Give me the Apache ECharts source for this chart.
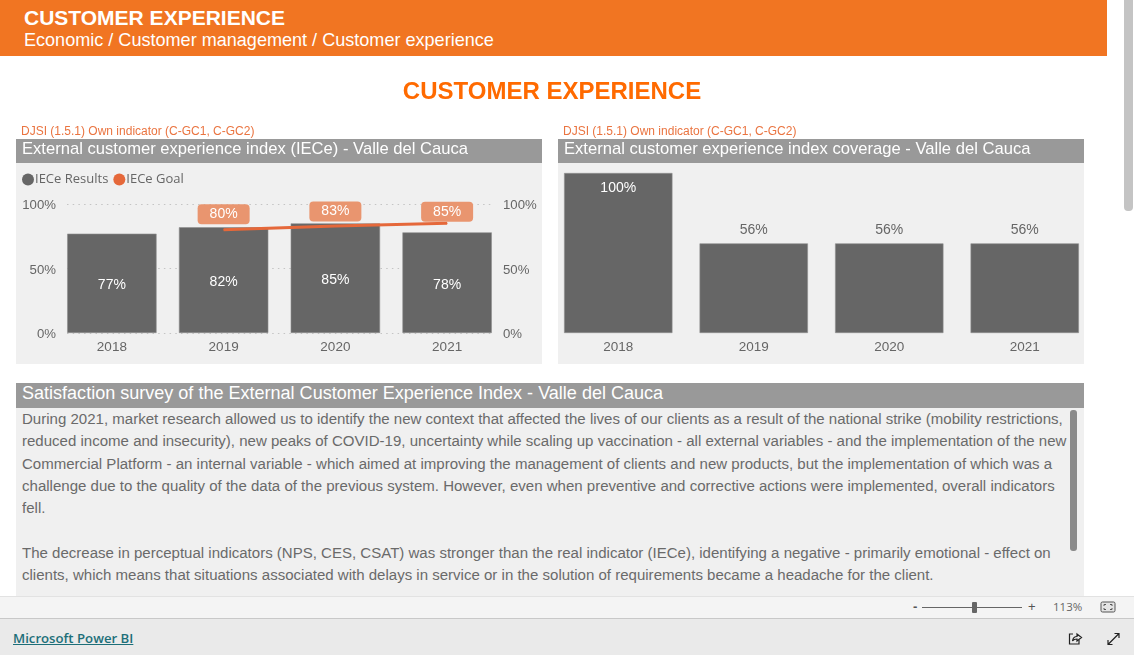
<!DOCTYPE html>
<html>
<head>
<meta charset="utf-8">
<style>
html,body{margin:0;padding:0;width:1134px;height:655px;overflow:hidden;background:#fff;font-family:"Liberation Sans",Arial,sans-serif}
.b{position:absolute}
.t{position:absolute;white-space:nowrap;line-height:1}
#chart{position:absolute;left:0;top:0;width:1134px;height:655px}
</style>
</head>
<body>
<div class="b" style="left:0;top:0;width:1107px;height:56px;background:#F17522"></div>
<div class="t" style="left:24px;top:7px;font-size:21px;font-weight:bold;color:#fff">CUSTOMER EXPERIENCE</div>
<div class="t" style="left:24px;top:31px;font-size:18.07px;color:#fff">Economic / Customer management / Customer experience</div>
<div class="b" style="left:1124px;top:0;width:9px;height:211px;background:#c4c4c4;border-radius:0 0 4px 4px"></div>

<div class="b" style="left:16px;top:163px;width:526px;height:201px;background:#f0f0f0"></div>
<div class="b" style="left:16px;top:139px;width:526px;height:24px;background:#999"></div>
<div class="b" style="left:558px;top:163px;width:526px;height:201px;background:#f0f0f0"></div>
<div class="b" style="left:558px;top:139px;width:526px;height:24px;background:#999"></div>

<div class="b" style="left:16px;top:408px;width:1068px;height:188px;background:#f0f0f0"></div>
<div class="b" style="left:16px;top:383px;width:1068px;height:25px;background:#999"></div>
<div class="t" style="left:22px;top:384px;font-size:18.05px;color:#fff">Satisfaction survey of the External Customer Experience Index - Valle del Cauca</div>
<div class="b" style="left:1070px;top:410px;width:7px;height:141px;background:#8a8a8a;border-radius:3px"></div>
<div id="body" class="b" style="left:22px;top:408px;width:1046px;height:188px;overflow:hidden;font-size:15.04px;line-height:22.3px;color:#6a6a6a;white-space:nowrap"></div>

<div class="b" style="left:0;top:596px;width:1134px;height:22px;background:#f4f4f4;border-top:1px solid #e2e2e2;box-sizing:border-box"></div>
<div class="b" style="left:0;top:618px;width:1134px;height:37px;background:#eaeaea;border-top:1px solid #c8c8c8;box-sizing:border-box"></div>
<div class="t" style="left:13px;top:632px;font-family:'Open Sans',sans-serif;font-size:13.2px;font-weight:600;color:#1d6f79;text-decoration:underline">Microsoft Power BI</div>
<div class="t" style="left:913px;top:600px;font-size:13px;font-weight:bold;color:#555">-</div>
<div class="b" style="left:922px;top:607px;width:100px;height:1px;background:#666"></div>
<div class="b" style="left:972px;top:602px;width:5px;height:11px;background:#666;border-radius:1px"></div>
<div class="t" style="left:1028px;top:600px;font-size:13px;color:#555">+</div>
<div class="t" style="left:1053px;top:601px;font-family:'Open Sans',sans-serif;font-size:11.5px;color:#666">113%</div>
<svg class="b" style="left:1100px;top:601px" width="16" height="12"><rect x="1" y="1" width="14" height="10" rx="1.5" fill="#e4e4e4" stroke="#555"/><path d="M4 5V3.5H6M10 3.5H12V5M12 7V8.5H10M6 8.5H4V7" fill="none" stroke="#555"/></svg>
<svg class="b" style="left:1067px;top:631px" width="16" height="15"><path d="M6 3H2.5V13H12V9" fill="none" stroke="#222" stroke-width="1.2"/><path d="M5.5 10C6 6.5 8 5.5 10 5.5V3L14.5 6.5L10 10V8C8 8 6.5 8.5 5.5 10Z" fill="none" stroke="#222" stroke-width="1.2"/></svg>
<svg class="b" style="left:1106px;top:632px" width="15" height="14"><path d="M2 12.5L13 1.5M8.5 1.5H13V6M2 8V12.5H6.5" fill="none" stroke="#222" stroke-width="1.2"/></svg>

<div id="chart"></div>
<script src="https://cdn.jsdelivr.net/npm/echarts@6/dist/echarts.min.js"></script>
<script>
const years = ['2018','2019','2020','2021'];
const results = [77,82,85,78];
const goal = [null,80,83,85];
const coverage = [100,56,56,56];
const captionText = 'DJSI (1.5.1) Own indicator (C-GC1, C-GC2)';
const mainTitle = 'CUSTOMER EXPERIENCE';
const leftTitle = 'External customer experience index (IECe) - Valle del Cauca';
const rightTitle = 'External customer experience index coverage - Valle del Cauca';
const bodyLines = [
 'During 2021, market research allowed us to identify the new context that affected the lives of our clients as a result of the national strike (mobility restrictions,',
 'reduced income and insecurity), new peaks of COVID-19, uncertainty while scaling up vaccination - all external variables - and the implementation of the new',
 'Commercial Platform - an internal variable - which aimed at improving the management of clients and new products, but the implementation of which was a',
 'challenge due to the quality of the data of the previous system. However, even when preventive and corrective actions were implemented, overall indicators',
 'fell.',
 '',
 'The decrease in perceptual indicators (NPS, CES, CSAT) was stronger than the real indicator (IECe), identifying a negative - primarily emotional - effect on',
 'clients, which means that situations associated with delays in service or in the solution of requirements became a headache for the client.'
];
document.getElementById('body').innerHTML = bodyLines.map(l => '<div style="height:22.3px">'+(l||'&nbsp;')+'</div>').join('');

const BAR = '#666666', GOAL = '#E5683A', LABEL_BG = '#E9956F', AXIS_TXT = '#666666';
const AF = 'Liberation Sans';
const pctLabel = v => '{a|' + v + '%}';
const tickRich = {a:{fontFamily:AF,fontSize:13.2,color:AXIS_TXT,padding:[3,0,0,0]}};
const goalOffsets = [0,1,2,5];

const chart = echarts.init(document.getElementById('chart'), null, {renderer:'canvas'});
chart.setOption({
  animation:false,
  backgroundColor:'transparent',
  title:[
    {text:mainTitle,left:552,textAlign:'center',top:80,padding:0,textStyle:{fontFamily:AF,fontSize:24,fontWeight:'bold',color:'#FF6A00'}},
    {text:captionText,left:21,top:126,padding:0,textStyle:{fontFamily:AF,fontSize:12,fontWeight:'normal',color:'#EA7440'}},
    {text:captionText,left:563,top:126,padding:0,textStyle:{fontFamily:AF,fontSize:12,fontWeight:'normal',color:'#EA7440'}},
    {text:leftTitle,left:22,top:141,padding:0,textStyle:{fontFamily:AF,fontSize:16.6,fontWeight:'normal',color:'#fff'}},
    {text:rightTitle,left:564,top:141,padding:0,textStyle:{fontFamily:AF,fontSize:16.6,fontWeight:'normal',color:'#fff'}}
  ],
  legend:{
    left:22,top:173,padding:0,itemWidth:12,itemHeight:12,itemGap:5,
    icon:'circle',
    textStyle:{fontFamily:'Open Sans',fontSize:13,color:'#666',padding:[0,0,0,-4]},
    data:[{name:'IECe Results',itemStyle:{color:BAR,borderWidth:0}},{name:'IECe Goal',itemStyle:{color:GOAL,borderWidth:0}}]
  },
  grid:[
    {left:67,width:425,top:204,height:129},
    {left:56,width:447,top:204,height:129},
    {left:550.5,width:542,top:173,height:160}
  ],
  xAxis:[
    {gridIndex:0,type:'category',data:years,show:false},
    {gridIndex:1,type:'category',data:years,axisLine:{show:false},axisTick:{show:false},
     axisLabel:{fontFamily:AF,fontSize:13.5,color:AXIS_TXT,margin:7}},
    {gridIndex:2,type:'category',data:years,axisLine:{show:false},axisTick:{show:false},
     axisLabel:{fontFamily:AF,fontSize:13.5,color:AXIS_TXT,margin:7}}
  ],
  yAxis:[
    {gridIndex:0,type:'value',min:0,max:100,interval:50,axisLine:{show:false},axisTick:{show:false},
     axisLabel:{margin:11,formatter:pctLabel,rich:tickRich},
     splitLine:{lineStyle:{type:[1.5,4.2],color:'#c4c4c4',width:1}}},
    {gridIndex:0,type:'value',position:'right',min:0,max:100,interval:50,axisLine:{show:false},axisTick:{show:false},
     axisLabel:{margin:11,formatter:pctLabel,rich:tickRich},splitLine:{show:false}},
    {gridIndex:1,type:'value',min:0,max:100,interval:50,show:false,splitLine:{show:false}},
    {gridIndex:2,type:'value',min:0,max:100,interval:50,show:false,splitLine:{show:false}}
  ],
  series:[
    {name:'IECe Results',type:'bar',xAxisIndex:1,yAxisIndex:2,barWidth:'80%',data:results,
     itemStyle:{color:BAR,borderColor:'#8f8f8f',borderWidth:0.6},
     label:{show:true,position:'inside',offset:[0,2],fontFamily:AF,fontSize:14,color:'#fff',formatter:p=>p.value+'%'}},
    {name:'IECe Goal',type:'line',xAxisIndex:1,yAxisIndex:2,data:goal.map((v,i)=>({
        value:v,
        label:{offset:[0,goalOffsets[i]]}
      })),
     connectNulls:false,showSymbol:true,symbol:'circle',symbolSize:1,z:5,
     lineStyle:{color:GOAL,width:3},itemStyle:{color:GOAL},
     label:{show:true,position:'top',distance:6,fontFamily:AF,fontSize:14,color:'#fff',backgroundColor:LABEL_BG,
       borderRadius:4,width:52,height:20,lineHeight:20,align:'center',padding:0,formatter:p=>p.value+'%'}},
    {name:'Coverage',type:'bar',xAxisIndex:2,yAxisIndex:3,barWidth:'80%',
     data:coverage.map(v=>({value:v,label:v>=100
        ?{position:'insideTop',distance:8,color:'#fff'}
        :{position:'top',distance:6,color:'#666'}})),
     itemStyle:{color:BAR,borderColor:'#8f8f8f',borderWidth:0.6},
     label:{show:true,fontFamily:AF,fontSize:14,formatter:p=>p.value+'%'}}
  ]
});
</script>
</body>
</html>
